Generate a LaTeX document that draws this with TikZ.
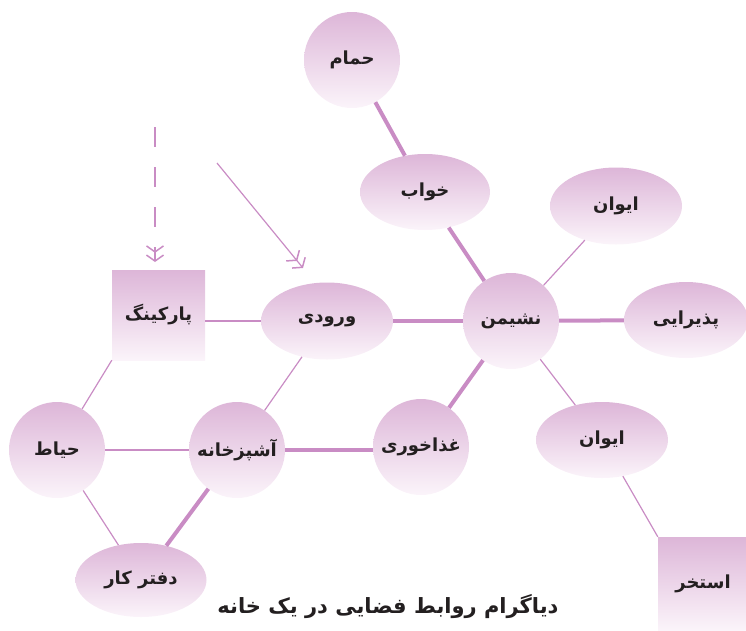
\documentclass[tikz,border=0pt]{standalone}
\usepackage{fontspec}
\usetikzlibrary{shapes.geometric,arrows.meta}
\TeXXeTstate=1
\newfontfamily\arabicfont[Script=Arabic]{DejaVu Sans}
\definecolor{lilac}{RGB}{221,182,216}
\definecolor{lilacend}{RGB}{251,244,250}
\definecolor{linkc}{RGB}{201,140,196}
\definecolor{inkc}{RGB}{35,31,32}
\newcommand{\fa}[1]{{\arabicfont\bfseries\beginR #1\endR}}
\tikzset{
  shaded/.style={top color=lilac, bottom color=lilacend, draw=none, inner sep=0pt,
    text=inkc, font=\fontsize{18}{22}\selectfont},
  room/.style={shaded, circle, minimum size=96pt},
  oval/.style={shaded, ellipse, minimum width=132pt, minimum height=77pt},
  roombox/.style={shaded, rectangle},
  thin link/.style={draw=linkc, line width=1.2pt},
  thick link/.style={draw=linkc, line width=4pt},
  chev/.style={-{Straight Barb[length=6pt,width=17pt,line width=1.5pt,sep=1.5pt] Straight Barb[length=6pt,width=17pt,line width=1.5pt]}},
}
\begin{document}
\begin{tikzpicture}[x=1pt,y=-1pt]
\useasboundingbox (0,0) rectangle (746,630);
% nodes
\node[room] (hammam) at (352,60) {\fa{حمام}};
\node[oval, minimum width=130pt, minimum height=76pt] (khab) at (425,192) {\fa{خواب}};
\node[oval] (ivan1) at (616,206) {\fa{ایوان}};
\node[room] (neshiman) at (511,321) {\fa{نشیمن}};
\node[oval, minimum width=124pt, minimum height=76pt] (paziraee) at (686,320) {\fa{پذیرایی}};
\node[oval] (vorudi) at (327,321) {\fa{ورودی}};
\node[roombox, minimum width=93pt, minimum height=90pt] (park) at (158.5,315) {\fa{پارکینگ}};
\node[room] (ghaza) at (421,447) {\fa{غذاخوری}};
\node[oval, minimum height=76pt] (ivan2) at (602,440) {\fa{ایوان}};
\node[room] (ashpaz) at (237,450) {\fa{آشپزخانه}};
\node[room] (hayat) at (57,450) {\fa{حیاط}};
\node[oval, minimum width=131pt, minimum height=74pt] (daftar) at (141,580) {\fa{دفتر کار}};
\node[roombox, minimum width=90pt, minimum height=93pt] (pool) at (703,583.5) {\fa{استخر}};
\node[text=inkc, font=\fontsize{21}{25}\selectfont] (caption) at (388,606) {\fa{دیاگرام روابط فضایی در یک خانه}};
% arrows
\coordinate (da) at (155,127);
\coordinate (db) at (155,262);
\coordinate (ea) at (217,163);
\coordinate (eb) at (303,268);
\draw[draw=linkc, line width=1.4pt, dash pattern=on 20pt off 20pt, chev] (da) -- (db);
\draw[draw=linkc, line width=1.2pt, chev] (ea) -- (eb);
% links
\draw[thick link] (hammam) -- (khab);
\draw[thick link] (khab) -- (neshiman);
\draw[thin link] (neshiman) -- (ivan1);
\draw[thick link] (neshiman) -- (paziraee);
\draw[thick link] (vorudi) -- (neshiman);
\draw[thin link] (vorudi) -- (vorudi -| park.east);
\draw[thick link] (neshiman) -- (ghaza);
\draw[thin link] (neshiman) -- (ivan2);
\draw[thin link] (ivan2) -- (pool.north west);
\draw[thin link] (vorudi) -- (ashpaz);
\draw[thick link] (ashpaz) -- (ashpaz -| ghaza.west);
\draw[thin link] (park.south west) -- (hayat);
\draw[thin link] (hayat) -- (ashpaz);
\draw[thin link] (hayat) -- (daftar);
\draw[thick link] (ashpaz) -- (daftar);
\end{tikzpicture}
\end{document}
